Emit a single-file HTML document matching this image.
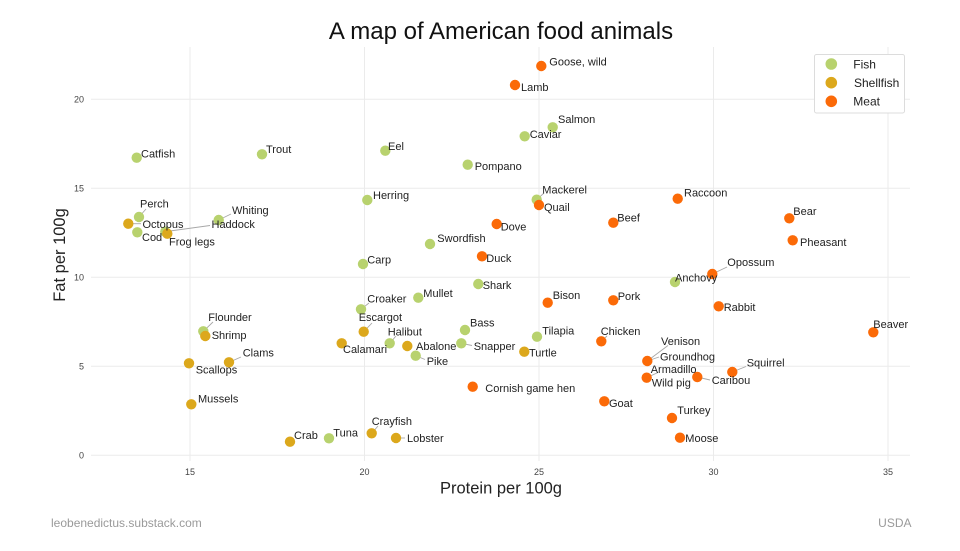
<!DOCTYPE html>
<html><head><meta charset="utf-8"><style>
html,body{margin:0;padding:0;background:#fff;}
svg{display:block;}
text{font-family:"Liberation Sans",Arial,sans-serif;}
.l{font-size:11px;fill:#222;}
.t{font-size:9px;fill:#444;}
.ld{stroke:#a8a8a8;stroke-width:0.9;fill:none;}
.f{fill:#b8d26e;}
.s{fill:#dca81c;}
.m{fill:#fb6a08;}
</style></head><body>
<svg width="960" height="551" viewBox="0 0 960 551" xmlns="http://www.w3.org/2000/svg">
<rect width="960" height="551" fill="#fff"/>
<!-- grid -->
<g stroke="#ebebeb" stroke-width="1">
<line x1="190" y1="47" x2="190" y2="461"/>
<line x1="364.5" y1="47" x2="364.5" y2="461"/>
<line x1="539" y1="47" x2="539" y2="461"/>
<line x1="713.5" y1="47" x2="713.5" y2="461"/>
<line x1="888" y1="47" x2="888" y2="461"/>
<line x1="91" y1="455.3" x2="910" y2="455.3"/>
<line x1="91" y1="366.3" x2="910" y2="366.3"/>
<line x1="91" y1="277.3" x2="910" y2="277.3"/>
<line x1="91" y1="188.3" x2="910" y2="188.3"/>
<line x1="91" y1="99.3" x2="910" y2="99.3"/>
</g>
<!-- tick labels -->
<g class="t" text-anchor="end">
<text x="84" y="458.5">0</text>
<text x="84" y="369.5">5</text>
<text x="84" y="280.5">10</text>
<text x="84" y="191.5">15</text>
<text x="84" y="102.5">20</text>
</g>
<g class="t" text-anchor="middle">
<text x="190" y="475">15</text>
<text x="364.5" y="475">20</text>
<text x="539" y="475">25</text>
<text x="713.5" y="475">30</text>
<text x="888" y="475">35</text>
</g>
<!-- title & axis labels -->
<text x="501" y="39" text-anchor="middle" style="font-size:24px;fill:#111;">A map of American food animals</text>
<text x="501" y="493.5" text-anchor="middle" style="font-size:16.5px;fill:#222;">Protein per 100g</text>
<text transform="translate(65,255) rotate(-90)" text-anchor="middle" style="font-size:16.5px;fill:#222;">Fat per 100g</text>
<text x="51" y="527" style="font-size:12px;fill:#9a9a9a;">leobenedictus.substack.com</text>
<text x="911.5" y="527" text-anchor="end" style="font-size:12px;fill:#9a9a9a;">USDA</text>
<!-- leader lines -->
<g class="ld">
<line x1="139" y1="217" x2="146" y2="209"/>
<line x1="218.7" y1="220" x2="231" y2="214"/>
<line x1="170" y1="231" x2="210" y2="225.5"/>
<line x1="133" y1="223.7" x2="141" y2="223.7"/>
<line x1="536.7" y1="199.7" x2="544" y2="193"/>
<line x1="712.3" y1="274" x2="727" y2="267"/>
<line x1="203.3" y1="331.3" x2="213" y2="322"/>
<line x1="229" y1="362.3" x2="241" y2="357"/>
<line x1="361" y1="309.3" x2="369" y2="303"/>
<line x1="363.7" y1="331.7" x2="372" y2="323"/>
<line x1="389.7" y1="343.3" x2="396" y2="336"/>
<line x1="461.3" y1="343.3" x2="472" y2="345.5"/>
<line x1="415.7" y1="355.7" x2="425" y2="359.5"/>
<line x1="601.3" y1="341.3" x2="607" y2="336"/>
<line x1="371.7" y1="433.3" x2="378" y2="426"/>
<line x1="396" y1="438" x2="405" y2="438"/>
<line x1="647.3" y1="361" x2="668" y2="345.5"/>
<line x1="647.3" y1="361" x2="659" y2="357"/>
<line x1="646.7" y1="377.7" x2="658" y2="372.5"/>
<line x1="697.3" y1="377" x2="710" y2="380"/>
<line x1="732.3" y1="372" x2="746" y2="366.5"/>
</g>
<!-- fish -->
<g class="f">
<circle cx="136.7" cy="157.7" r="5.2"/>
<circle cx="262" cy="154.3" r="5.2"/>
<circle cx="385.3" cy="150.7" r="5.2"/>
<circle cx="367.3" cy="200" r="5.2"/>
<circle cx="139" cy="217" r="5.2"/>
<circle cx="137.3" cy="232.3" r="5.2"/>
<circle cx="218.7" cy="220" r="5.2"/>
<circle cx="165.3" cy="231.7" r="5.2"/>
<circle cx="552.7" cy="127.3" r="5.2"/>
<circle cx="524.7" cy="136.3" r="5.2"/>
<circle cx="467.7" cy="164.7" r="5.2"/>
<circle cx="536.7" cy="199.7" r="5.2"/>
<circle cx="430" cy="244" r="5.2"/>
<circle cx="675" cy="282" r="5.2"/>
<circle cx="363" cy="264" r="5.2"/>
<circle cx="361" cy="309.3" r="5.2"/>
<circle cx="203.3" cy="331.3" r="5.2"/>
<circle cx="329" cy="438.3" r="5.2"/>
<circle cx="418.3" cy="297.7" r="5.2"/>
<circle cx="478.3" cy="284" r="5.2"/>
<circle cx="465" cy="330" r="5.2"/>
<circle cx="389.7" cy="343.3" r="5.2"/>
<circle cx="461.3" cy="343.3" r="5.2"/>
<circle cx="415.7" cy="355.7" r="5.2"/>
<circle cx="537" cy="336.7" r="5.2"/>
</g>
<!-- shellfish -->
<g class="s">
<circle cx="128.3" cy="223.7" r="5.2"/>
<circle cx="167.3" cy="233.7" r="5.2"/>
<circle cx="363.7" cy="331.7" r="5.2"/>
<circle cx="341.7" cy="343.3" r="5.2"/>
<circle cx="205.3" cy="336" r="5.2"/>
<circle cx="229" cy="362.3" r="5.2"/>
<circle cx="189" cy="363.3" r="5.2"/>
<circle cx="191.3" cy="404.3" r="5.2"/>
<circle cx="290" cy="441.7" r="5.2"/>
<circle cx="407.3" cy="346" r="5.2"/>
<circle cx="524.3" cy="351.7" r="5.2"/>
<circle cx="371.7" cy="433.3" r="5.2"/>
<circle cx="396" cy="438" r="5.2"/>
</g>
<!-- meat -->
<g class="m">
<circle cx="541.3" cy="66" r="5.2"/>
<circle cx="515" cy="85" r="5.2"/>
<circle cx="539" cy="205" r="5.2"/>
<circle cx="677.7" cy="198.7" r="5.2"/>
<circle cx="613.3" cy="222.7" r="5.2"/>
<circle cx="496.7" cy="224" r="5.2"/>
<circle cx="482" cy="256.3" r="5.2"/>
<circle cx="789.3" cy="218.3" r="5.2"/>
<circle cx="792.7" cy="240.3" r="5.2"/>
<circle cx="712.3" cy="274" r="5.2"/>
<circle cx="718.7" cy="306.3" r="5.2"/>
<circle cx="613.3" cy="300.3" r="5.2"/>
<circle cx="547.7" cy="302.7" r="5.2"/>
<circle cx="601.3" cy="341.3" r="5.2"/>
<circle cx="472.7" cy="386.7" r="5.2"/>
<circle cx="604.3" cy="401.3" r="5.2"/>
<circle cx="873.3" cy="332.3" r="5.2"/>
<circle cx="647.3" cy="361" r="5.2"/>
<circle cx="646.7" cy="377.7" r="5.2"/>
<circle cx="697.3" cy="377" r="5.2"/>
<circle cx="732.3" cy="372" r="5.2"/>
<circle cx="672" cy="418" r="5.2"/>
<circle cx="680" cy="437.7" r="5.2"/>
</g>
<!-- labels -->
<g class="l">
<text x="141" y="157.5">Catfish</text>
<text x="266" y="153">Trout</text>
<text x="388" y="150">Eel</text>
<text x="373" y="199">Herring</text>
<text x="140" y="207.5">Perch</text>
<text x="142.5" y="228">Octopus</text>
<text x="142" y="241">Cod</text>
<text x="232" y="214">Whiting</text>
<text x="211.5" y="228">Haddock</text>
<text x="169" y="245.5">Frog legs</text>
<text x="549.3" y="65.5">Goose, wild</text>
<text x="521" y="91">Lamb</text>
<text x="558" y="123">Salmon</text>
<text x="529.7" y="138">Caviar</text>
<text x="474.7" y="170">Pompano</text>
<text x="542.3" y="193.5">Mackerel</text>
<text x="544" y="211">Quail</text>
<text x="684" y="196.5">Raccoon</text>
<text x="617.3" y="221.5">Beef</text>
<text x="500.7" y="230.5">Dove</text>
<text x="437.3" y="242">Swordfish</text>
<text x="486.3" y="262">Duck</text>
<text x="793.3" y="215">Bear</text>
<text x="800" y="246">Pheasant</text>
<text x="727.3" y="266">Opossum</text>
<text x="675" y="281.5">Anchovy</text>
<text x="723.7" y="311">Rabbit</text>
<text x="617.7" y="300">Pork</text>
<text x="367.3" y="263.5">Carp</text>
<text x="367.3" y="302.5">Croaker</text>
<text x="358.7" y="321">Escargot</text>
<text x="343" y="353">Calamari</text>
<text x="208.3" y="321">Flounder</text>
<text x="211.7" y="339">Shrimp</text>
<text x="242.7" y="356.5">Clams</text>
<text x="195.7" y="373.5">Scallops</text>
<text x="198" y="402.5">Mussels</text>
<text x="294" y="439">Crab</text>
<text x="333.3" y="436.5">Tuna</text>
<text x="423.3" y="297">Mullet</text>
<text x="482.7" y="289">Shark</text>
<text x="552.7" y="299">Bison</text>
<text x="470" y="326.5">Bass</text>
<text x="387.7" y="335.5">Halibut</text>
<text x="416" y="350">Abalone</text>
<text x="473.7" y="350">Snapper</text>
<text x="426.7" y="365">Pike</text>
<text x="542.3" y="334.5">Tilapia</text>
<text x="529" y="356.5">Turtle</text>
<text x="600.7" y="335">Chicken</text>
<text x="485.3" y="392">Cornish game hen</text>
<text x="609" y="407">Goat</text>
<text x="371.7" y="425">Crayfish</text>
<text x="407" y="442">Lobster</text>
<text x="873.3" y="328">Beaver</text>
<text x="661" y="345">Venison</text>
<text x="660" y="360.5">Groundhog</text>
<text x="650.7" y="373">Armadillo</text>
<text x="651.7" y="386.5">Wild pig</text>
<text x="711.7" y="384">Caribou</text>
<text x="746.7" y="366.5">Squirrel</text>
<text x="677.3" y="414">Turkey</text>
<text x="685.3" y="442">Moose</text>
</g>
<!-- legend -->
<rect x="814.5" y="54.5" width="90" height="58.5" rx="2" ry="2" fill="#fff" stroke="#dcdcdc" stroke-width="1"/>
<circle cx="831.3" cy="64" r="5.8" class="f"/>
<circle cx="831.3" cy="82.7" r="5.8" class="s"/>
<circle cx="831.3" cy="101.3" r="5.8" class="m"/>
<g style="font-size:12px;fill:#222;">
<text x="853.3" y="68.3">Fish</text>
<text x="854" y="87">Shellfish</text>
<text x="853.3" y="105.6">Meat</text>
</g>
</svg>
</body></html>
